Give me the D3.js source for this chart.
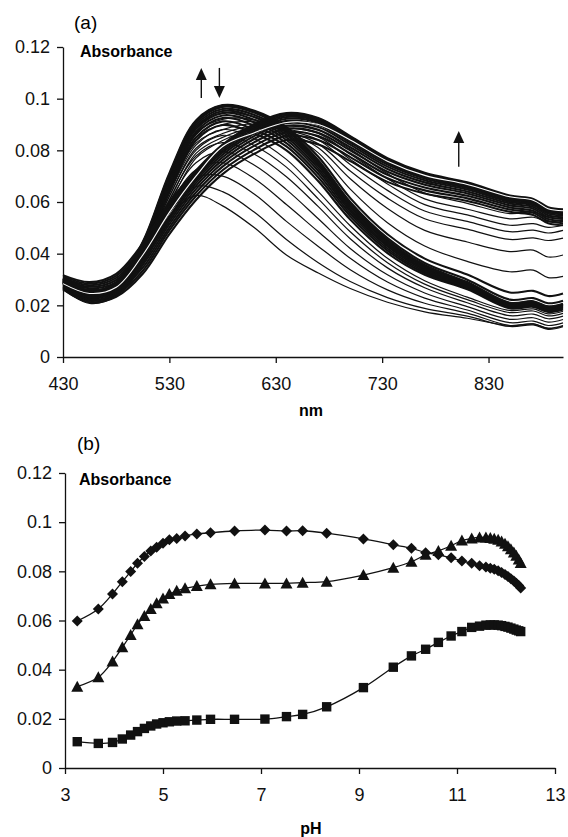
<!DOCTYPE html>
<html>
<head>
<meta charset="utf-8">
<script src="https://cdnjs.cloudflare.com/ajax/libs/d3/7.8.5/d3.min.js"></script>
<style>
body { margin: 0; background: #fff; }
svg { display: block; font-family: "Liberation Sans", Arial, sans-serif; }
</style>
</head>
<body>
<script>
// ---- panel (a): spectra, read at these wavelengths (nm)
var wavelengths = [430, 455, 480, 505, 530, 555, 580, 610, 640, 670, 700, 735, 770, 810, 850, 872, 886, 900];

// low pH (3.2 - 4.8), separate thin curves
var spectraLow = [
    [.0262, .0207, .0236, .0355, .0545, .0625, .0585, .0500, .0395, .0325, .0265, .0212, .0175, .0150, .0122, .0128, .0110, .0120],
    [.0265, .0210, .0240, .0362, .0560, .0660, .0640, .0560, .0455, .0365, .0292, .0230, .0188, .0158, .0118, .0124, .0107, .0117],
    [.0268, .0213, .0243, .0368, .0572, .0693, .0700, .0630, .0525, .0428, .0338, .0260, .0208, .0170, .0122, .0128, .0112, .0122],
    [.0272, .0216, .0246, .0374, .0585, .0725, .0752, .0690, .0590, .0485, .0382, .0290, .0228, .0182, .0133, .0139, .0122, .0132],
    [.0276, .0219, .0250, .0380, .0598, .0752, .0795, .0742, .0648, .0535, .0420, .0318, .0248, .0195, .0146, .0152, .0135, .0145],
    [.0279, .0222, .0253, .0386, .0610, .0778, .0830, .0785, .0698, .0582, .0458, .0345, .0268, .0210, .0160, .0166, .0148, .0158],
    [.0282, .0225, .0256, .0392, .0622, .0800, .0858, .0818, .0735, .0612, .0485, .0365, .0282, .0222, .0172, .0178, .0159, .0169],
    [.0285, .0228, .0259, .0398, .0633, .0820, .0880, .0845, .0765, .0640, .0508, .0382, .0295, .0232, .0180, .0186, .0167, .0177]
];

// pH 4.9 - 8.3, dense band peaking near 580 nm
var spectraMid = [
    [.0286, .0230, .0262, .0402, .0640, .0838, .0898, .0865, .0800, .0680, .0532, .0402, .0318, .0262, .0188, .0194, .0174, .0184],
    [.0288, .0233, .0265, .0408, .0650, .0850, .0912, .0880, .0815, .0695, .0545, .0412, .0324, .0266, .0192, .0198, .0178, .0188],
    [.0290, .0236, .0268, .0413, .0660, .0862, .0925, .0895, .0828, .0708, .0555, .0420, .0330, .0270, .0196, .0202, .0182, .0192],
    [.0292, .0239, .0271, .0418, .0668, .0872, .0935, .0908, .0840, .0720, .0564, .0428, .0336, .0274, .0199, .0205, .0185, .0195],
    [.0294, .0242, .0274, .0423, .0676, .0882, .0944, .0918, .0850, .0730, .0572, .0435, .0341, .0278, .0202, .0208, .0188, .0198],
    [.0296, .0245, .0277, .0428, .0684, .0890, .0952, .0928, .0860, .0740, .0580, .0442, .0346, .0282, .0205, .0211, .0191, .0201],
    [.0298, .0248, .0280, .0433, .0692, .0898, .0960, .0937, .0868, .0748, .0587, .0448, .0351, .0286, .0208, .0214, .0194, .0204],
    [.0300, .0251, .0283, .0438, .0700, .0906, .0968, .0945, .0876, .0755, .0593, .0453, .0356, .0290, .0210, .0216, .0196, .0206],
    [.0302, .0254, .0286, .0442, .0706, .0912, .0973, .0950, .0882, .0762, .0600, .0460, .0364, .0299, .0222, .0228, .0208, .0218],
    [.0304, .0257, .0289, .0446, .0712, .0916, .0975, .0953, .0890, .0775, .0615, .0475, .0381, .0319, .0250, .0256, .0236, .0246]
];

// pH 9 - 11.1, curves moving over to the 650 nm band
var spectraShift = [
    [.0300, .0252, .0283, .0435, .0690, .0890, .0945, .0930, .0872, .0790, .0650, .0520, .0430, .0370, .0330, .0336, .0307, .0312],
    [.0298, .0250, .0280, .0428, .0675, .0868, .0920, .0918, .0872, .0810, .0690, .0575, .0490, .0445, .0408, .0414, .0387, .0395],
    [.0296, .0248, .0277, .0420, .0658, .0848, .0900, .0910, .0875, .0825, .0720, .0615, .0535, .0495, .0455, .0461, .0451, .0460],
    [.0293, .0245, .0273, .0412, .0640, .0828, .0880, .0902, .0878, .0840, .0745, .0645, .0565, .0525, .0485, .0491, .0480, .0490],
    [.0290, .0242, .0270, .0404, .0622, .0808, .0865, .0895, .0882, .0852, .0765, .0670, .0590, .0550, .0510, .0516, .0502, .0510],
    [.0287, .0239, .0266, .0396, .0605, .0788, .0850, .0888, .0888, .0865, .0785, .0690, .0612, .0572, .0535, .0541, .0524, .0530],
    [.0284, .0236, .0262, .0388, .0590, .0770, .0838, .0882, .0895, .0878, .0805, .0710, .0635, .0595, .0555, .0561, .0542, .0548]
];

// pH 11.3 - 12.3, dense band peaking near 650 nm
var spectraHigh = [
    [.0317, .0290, .0322, .0440, .0600, .0722, .0822, .0902, .0944, .0925, .0855, .0770, .0713, .0676, .0625, .0612, .0580, .0572],
    [.0312, .0284, .0314, .0430, .0590, .0715, .0815, .0896, .0940, .0922, .0852, .0766, .0710, .0672, .0621, .0608, .0576, .0568],
    [.0307, .0278, .0306, .0420, .0580, .0708, .0808, .0890, .0935, .0918, .0848, .0762, .0706, .0668, .0618, .0605, .0573, .0565],
    [.0302, .0272, .0298, .0410, .0570, .0700, .0800, .0883, .0929, .0913, .0843, .0757, .0702, .0664, .0614, .0601, .0569, .0561],
    [.0297, .0266, .0290, .0400, .0560, .0692, .0792, .0875, .0922, .0907, .0837, .0752, .0697, .0659, .0610, .0597, .0565, .0557],
    [.0292, .0259, .0282, .0390, .0544, .0683, .0783, .0866, .0914, .0899, .0830, .0745, .0691, .0654, .0605, .0592, .0560, .0552],
    [.0287, .0252, .0274, .0380, .0535, .0673, .0773, .0856, .0905, .0890, .0822, .0737, .0684, .0648, .0600, .0587, .0555, .0547],
    [.0282, .0245, .0266, .0370, .0525, .0662, .0762, .0845, .0895, .0880, .0812, .0728, .0676, .0641, .0594, .0581, .0549, .0541],
    [.0277, .0238, .0258, .0358, .0514, .0650, .0750, .0832, .0883, .0868, .0800, .0717, .0667, .0633, .0587, .0574, .0542, .0534],
    [.0272, .0231, .0250, .0346, .0502, .0637, .0737, .0818, .0870, .0855, .0788, .0705, .0656, .0624, .0579, .0566, .0534, .0526],
    [.0267, .0222, .0242, .0334, .0490, .0623, .0723, .0803, .0856, .0840, .0774, .0692, .0645, .0614, .0571, .0558, .0526, .0518],
    [.0262, .0212, .0233, .0322, .0476, .0608, .0708, .0787, .0840, .0823, .0758, .0678, .0633, .0604, .0562, .0550, .0518, .0510]
];

// white gap that runs through the high pH band
var gapTrace = [.0284, .0246, .0270, .0395, .0560, .0700, .0815, .0868, .0908, .0900, .0840, .0758, .0703, .0668, .0620, .0607, .0574, .0566];

// ---- panel (b): absorbance vs pH
var pH = [3.25, 3.68, 3.97, 4.17, 4.34, 4.48, 4.62, 4.75, 4.87, 5.0, 5.13, 5.28, 5.45, 5.69, 5.97, 6.46, 7.08, 7.52, 7.85, 8.34,
    9.09, 9.7, 10.07, 10.36, 10.62, 10.88, 11.1, 11.3, 11.46, 11.59, 11.68, 11.76, 11.84, 11.91, 11.98, 12.04, 12.1, 12.16, 12.21, 12.26, 12.3];
var absDiamond = [.0598, .0647, .0708, .0758, .0799, .0833, .0860, .0883, .0898, .0914, .0928, .0934, .0944, .0952, .0957, .0964, .0968, .0964, .0965, .0955,
    .0932, .0908, .0894, .0876, .0867, .0855, .0842, .0833, .0823, .0818, .0813, .0808, .0802, .0795, .0787, .0779, .0770, .0761, .0752, .0742, .0732];
var absTriangle = [.0331, .0369, .0433, .0491, .0541, .0585, .0618, .0647, .0670, .0690, .0708, .0721, .0731, .0740, .0747, .0751, .0751, .0751, .0754, .0758,
    .0785, .0815, .0839, .0867, .0883, .0904, .0925, .0934, .0938, .0938, .0936, .0933, .0928, .0921, .0912, .0902, .0890, .0877, .0863, .0848, .0834];
var absSquare = [.0107, .0100, .0104, .0118, .0134, .0148, .0161, .0171, .0179, .0184, .0188, .0191, .0192, .0195, .0198, .0198, .0199, .0209, .0218, .0249,
    .0327, .0410, .0456, .0483, .0511, .0537, .0555, .0572, .0577, .0581, .0582, .0582, .0581, .0579, .0576, .0573, .0569, .0565, .0561, .0558, .0555];

var absTicks = [0, 0.02, 0.04, 0.06, 0.08, 0.1, 0.12];
var nmTicks = [430, 530, 630, 730, 830];
var pHTicks = [3, 5, 7, 9, 11, 13];

var svg = d3.select("body")
    .append("svg")
    .attr("width", 568)
    .attr("height", 837);

function styleAxis(g) {
    g.attr("font-size", 18)
        .attr("font-family", "Liberation Sans, Arial, sans-serif");
    g.selectAll("path, line").attr("stroke", "#111").attr("stroke-width", 1.3);
    g.selectAll("text").attr("fill", "#111");
}

// ================= panel (a)
var xA = d3.scaleLinear().domain([430, 900]).range([63, 563]);
var yA = d3.scaleLinear().domain([0, 0.12]).range([357, 47]);

svg.append("g")
    .attr("transform", "translate(0,357)")
    .call(d3.axisBottom(xA).tickValues(nmTicks).tickSize(6).tickPadding(14).tickSizeOuter(0))
    .call(styleAxis);

svg.append("g")
    .attr("transform", "translate(63,0)")
    .call(d3.axisLeft(yA).tickValues(absTicks).tickSize(6).tickPadding(7).tickSizeOuter(0)
        .tickFormat(function(d) { return String(d); }))
    .call(styleAxis);

var spectrumLine = d3.line()
    .x(function(d, i) { return xA(wavelengths[i]); })
    .y(function(d) { return yA(d); })
    .curve(d3.curveCatmullRom.alpha(0.5));

// thin separate curves, then the two dense bands drawn heavier
var spectraGroups = [
    {curves: spectraLow, width: 1.2},
    {curves: spectraShift, width: 1.2},
    {curves: spectraMid, width: 2.1},
    {curves: spectraHigh, width: 2.1}
];

spectraGroups.forEach(function(grp) {
    svg.append("g")
        .selectAll("path")
        .data(grp.curves)
        .enter().append("path")
        .attr("d", spectrumLine)
        .attr("fill", "none")
        .attr("stroke", "#111")
        .attr("stroke-width", grp.width);
});

svg.append("path")
    .attr("d", spectrumLine(gapTrace))
    .attr("fill", "none")
    .attr("stroke", "#fff")
    .attr("stroke-width", 1.1);

// arrows showing the direction of change
var arrows = [
    {nm: 560, from: 0.1003, to: 0.1119},
    {nm: 577, from: 0.1119, to: 0.1003},
    {nm: 802, from: 0.0736, to: 0.0875}
];
arrows.forEach(function(a) {
    var x = xA(a.nm), y0 = yA(a.from), y1 = yA(a.to);
    var dir = y1 < y0 ? 1 : -1;
    svg.append("line")
        .attr("x1", x).attr("x2", x)
        .attr("y1", y0).attr("y2", y1 + dir * 10)
        .attr("stroke", "#111").attr("stroke-width", 1.4);
    svg.append("path")
        .attr("d", "M" + x + "," + y1 + "L" + (x - 5.5) + "," + (y1 + dir * 12) + "L" + (x + 5.5) + "," + (y1 + dir * 12) + "Z")
        .attr("fill", "#111");
});

svg.append("text").attr("x", 74).attr("y", 29).attr("font-size", 19).text("(a)");
svg.append("text").attr("x", 80).attr("y", 57).attr("font-size", 16).attr("font-weight", "bold").text("Absorbance");
svg.append("text").attr("x", 311).attr("y", 416).attr("font-size", 16).attr("font-weight", "bold")
    .attr("text-anchor", "middle").text("nm");

// ================= panel (b)
var xB = d3.scaleLinear().domain([3, 13]).range([65, 555]);
var yB = d3.scaleLinear().domain([0, 0.12]).range([768, 473]);

svg.append("g")
    .attr("transform", "translate(0,768)")
    .call(d3.axisBottom(xB).tickValues(pHTicks).tickSize(6).tickPadding(14).tickSizeOuter(0))
    .call(styleAxis);

svg.append("g")
    .attr("transform", "translate(65,0)")
    .call(d3.axisLeft(yB).tickValues(absTicks).tickSize(6).tickPadding(7).tickSizeOuter(0)
        .tickFormat(function(d) { return String(d); }))
    .call(styleAxis);

var markerPaths = {
    diamond: "M0,-5.5L5.5,0L0,5.5L-5.5,0Z",
    triangle: "M0,-6L6,5L-6,5Z",
    square: "M-4.7,-4.7H4.7V4.7H-4.7Z"
};

var series = [
    {values: absDiamond, marker: "diamond"},
    {values: absTriangle, marker: "triangle"},
    {values: absSquare, marker: "square"}
];

var phLine = d3.line()
    .x(function(d, i) { return xB(pH[i]); })
    .y(function(d) { return yB(d); })
    .curve(d3.curveCatmullRom.alpha(0.5));

series.forEach(function(s) {
    svg.append("path")
        .attr("d", phLine(s.values))
        .attr("fill", "none")
        .attr("stroke", "#111")
        .attr("stroke-width", 1.3);

    svg.append("g")
        .selectAll("path")
        .data(s.values)
        .enter().append("path")
        .attr("d", markerPaths[s.marker])
        .attr("transform", function(d, i) { return "translate(" + xB(pH[i]) + "," + yB(d) + ")"; })
        .attr("fill", "#111");
});

svg.append("text").attr("x", 77).attr("y", 450).attr("font-size", 19).text("(b)");
svg.append("text").attr("x", 79).attr("y", 485).attr("font-size", 16).attr("font-weight", "bold").text("Absorbance");
svg.append("text").attr("x", 311).attr("y", 834).attr("font-size", 16).attr("font-weight", "bold")
    .attr("text-anchor", "middle").text("pH");
</script>
</body>
</html>
